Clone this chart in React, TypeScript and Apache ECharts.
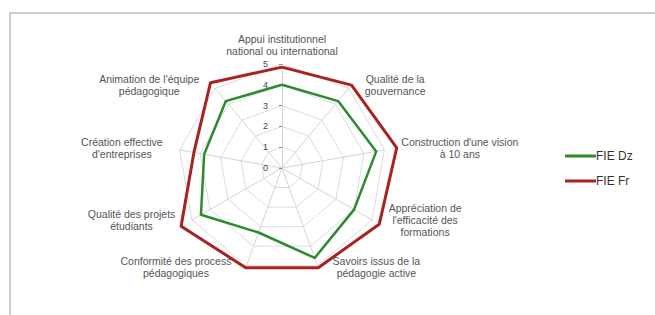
import React, { useEffect, useRef } from "react";
import * as echarts from "echarts";

// Categories in clockwise order starting at the top
const categories: string[] = [
  "Appui institutionnel\nnational ou international",
  "Qualité de la\ngouvernance",
  "Construction d'une vision\nà 10 ans",
  "Appréciation de\nl'efficacité des\nformations",
  "Savoirs issus de la\npédagogie active",
  "Conformité des process\npédagogiques",
  "Qualité des projets\nétudiants",
  "Création effective\nd'entreprises",
  "Animation de l'équipe\npédagogique",
];

const seriesNames: string[] = ["FIE Dz", "FIE Fr"];
const fieDz: number[] = [4.0, 4.2, 4.6, 4.0, 4.6, 3.3, 4.5, 3.8, 4.2];
const fieFr: number[] = [4.85, 5.2, 5.6, 5.4, 5.1, 5.1, 5.6, 4.3, 5.35];
const axisMax = 5;
const tickLabels: string[] = ["0", "1", "2", "3", "4", "5"];

const colors = ["#2f8a2f", "#a82222"];

// ECharts radar goes counter-clockwise; reorder to obtain a clockwise layout
const cw = <T,>(arr: T[]): T[] => [arr[0], ...arr.slice(1).reverse()];

export default function App() {
  const ref = useRef<HTMLDivElement>(null);
  useEffect(() => {
    if (!ref.current) return;
    const chart = echarts.init(ref.current, undefined, { renderer: "svg" });
    const cats = cw(categories);
    chart.setOption({
      animation: false,
      backgroundColor: "#ffffff",
      textStyle: { fontFamily: "Liberation Sans, Arial, sans-serif" },
      graphic: [
        {
          type: "rect",
          shape: { x: 10, y: 13, width: 700, height: 400 },
          style: { fill: "none", stroke: "#cdcdcd", lineWidth: 2 },
          silent: true,
        },
      ],
      legend: {
        orient: "vertical",
        left: 560,
        top: 145,
        itemWidth: 31,
        itemHeight: 3,
        itemGap: 13,
        icon: "rect",
        data: seriesNames,
        textStyle: { fontSize: 12, color: "#333", padding: [0, 0, 0, -5] },
      },
      radar: {
        center: [282, 168],
        radius: 104,
        startAngle: 90,
        splitNumber: tickLabels.length - 1,
        shape: "polygon",
        axisName: {
          color: "#555",
          fontSize: 10.5,
          lineHeight: 12,
          padding: [0, 14, 3, 14],
          formatter: (name: string) =>
            name
              .split("\n")
              .map((l) => `{c|${l}}`)
              .join("\n"),
          rich: {
            c: { align: "center", color: "#555", fontSize: 10.5, lineHeight: 12 },
          },
        },
        nameGap: 3,
        splitArea: { show: false },
        splitLine: { lineStyle: { color: "#dcdcdc", width: 1 } },
        axisLine: { lineStyle: { color: "#d4d4d4", width: 1 } },
        axisTick: { show: false },
        axisLabel: { show: false },
        indicator: cats.map((name, i) => ({
          name,
          min: 0,
          max: axisMax,
          ...(i === 0
            ? {
                axisLabel: {
                  show: true,
                  fontSize: 9,
                  color: "#444",
                  margin: 14,
                  formatter: (v: number) => tickLabels[Math.round(v)] ?? "",
                },
                axisTick: { show: true, length: 3, lineStyle: { color: "#888" } },
              }
            : {}),
        })),
      },
      series: [
        {
          type: "radar",
          symbol: "none",
          data: [
            {
              name: seriesNames[0],
              value: cw(fieDz),
              lineStyle: { color: colors[0], width: 2.5 },
              itemStyle: { color: colors[0] },
            },
            {
              name: seriesNames[1],
              value: cw(fieFr),
              lineStyle: { color: colors[1], width: 3 },
              itemStyle: { color: colors[1] },
            },
          ],
        },
      ],
    });
    return () => chart.dispose();
  }, []);
  return (
    <div
      ref={ref}
      style={{ position: "fixed", left: 0, top: 0, width: 655, height: 315 }}
    />
  );
}
